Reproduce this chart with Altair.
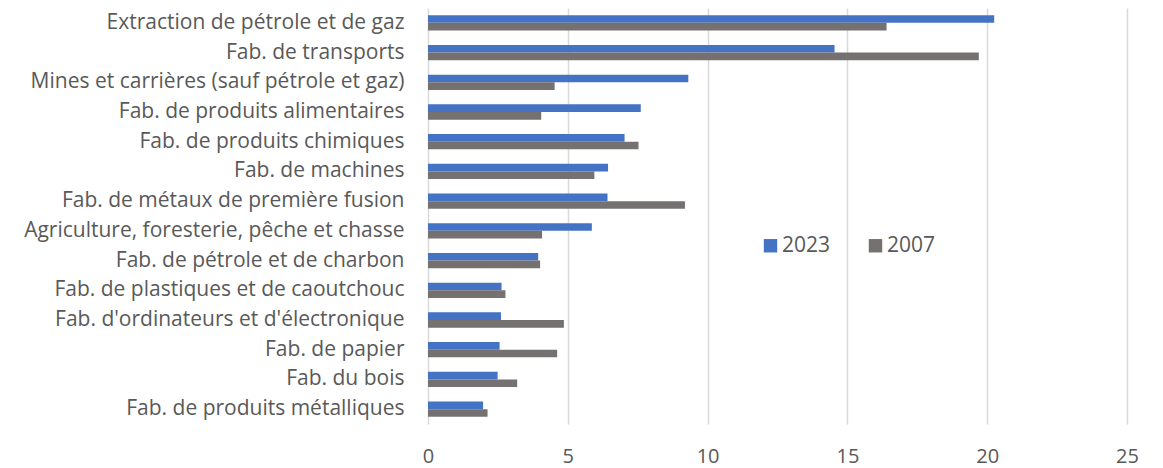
import altair as alt
import pandas as pd

categories = [
    "Extraction de pétrole et de gaz",
    "Fab. de transports",
    "Mines et carrières (sauf pétrole et gaz)",
    "Fab. de produits alimentaires",
    "Fab. de produits chimiques",
    "Fab. de machines",
    "Fab. de métaux de première fusion",
    "Agriculture, foresterie, pêche et chasse",
    "Fab. de pétrole et de charbon",
    "Fab. de plastiques et de caoutchouc",
    "Fab. d'ordinateurs et d'électronique",
    "Fab. de papier",
    "Fab. du bois",
    "Fab. de produits métalliques",
]
values_2023 = [20.25, 14.54, 9.31, 7.61, 7.03, 6.44, 6.42, 5.86, 3.94, 2.63, 2.61, 2.56, 2.49, 1.97]
values_2007 = [16.40, 19.70, 4.53, 4.05, 7.53, 5.95, 9.19, 4.08, 4.01, 2.77, 4.86, 4.62, 3.19, 2.13]
series = ["2023", "2007"]
colors = ["#4472C4", "#767171"]
x_ticks = [0, 5, 10, 15, 20, 25]

rows = []
for c, a, b in zip(categories, values_2023, values_2007):
    rows.append({"cat": c, "series": "2023", "value": a})
    rows.append({"cat": c, "series": "2007", "value": b})
df = pd.DataFrame(rows)

FONT = "Open Sans"
TXT = "#595959"

chart = (
    alt.Chart(df)
    .mark_bar()
    .encode(
        y=alt.Y(
            "cat:N",
            sort=categories,
            title=None,
            scale=alt.Scale(paddingInner=0.485, paddingOuter=0.2425),
            axis=alt.Axis(
                domain=False,
                ticks=False,
                labelFont=FONT,
                labelFontSize=21,
                labelColor=TXT,
                labelPadding=24,
                labelLimit=500,
            ),
        ),
        yOffset=alt.YOffset("series:N", sort=series),
        x=alt.X(
            "value:Q",
            title=None,
            scale=alt.Scale(domain=[0, 25], nice=False),
            axis=alt.Axis(
                values=x_ticks,
                domain=False,
                ticks=False,
                grid=True,
                gridColor="#d9d9d9",
                gridWidth=1.5,
                labelFont=FONT,
                labelFontSize=20,
                labelColor=TXT,
                labelPadding=22,
                labelFlush=False,
            ),
        ),
        color=alt.Color(
            "series:N",
            sort=series,
            scale=alt.Scale(domain=series, range=colors),
            legend=alt.Legend(
                title=None,
                orient="none",
                direction="horizontal",
                legendX=332,
                legendY=227,
                symbolType="square",
                symbolSize=180,
                symbolStrokeWidth=0,
                labelFont=FONT,
                labelFontSize=21,
                labelColor=TXT,
                labelOffset=1,
                columnPadding=34,
                padding=0,
            ),
        ),
    )
    .properties(
        width=699,
        height=416,
        autosize=alt.AutoSizeParams(type="none"),
        padding={"left": 420, "top": 0, "right": 20, "bottom": 70},
    )
    .configure_view(stroke=None)
)

chart.save("out.html", embed_options={"renderer": "svg", "actions": False})
